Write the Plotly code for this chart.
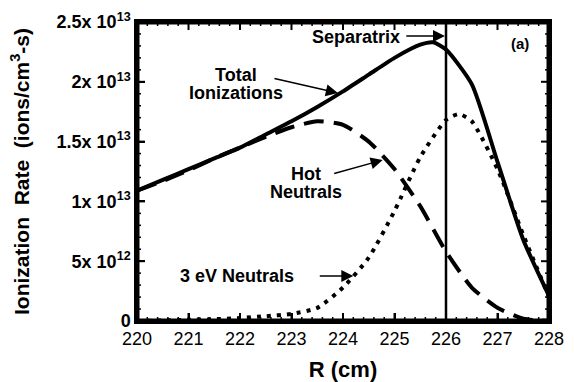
import plotly.graph_objects as go

# ---- data ----
r_total = [220, 220.5, 221, 221.5, 222, 222.5, 223, 223.5, 224, 224.5, 225, 225.5, 225.75, 226, 226.5, 227, 227.5, 228]
total = [1.09, 1.18, 1.27, 1.36, 1.45, 1.56, 1.67, 1.79, 1.92, 2.06, 2.20, 2.31, 2.33, 2.27, 1.98, 1.33, 0.68, 0.21]

r_hot = [220, 220.5, 221, 221.5, 222, 222.5, 223, 223.5, 224, 224.5, 225, 225.5, 226, 226.5, 227, 227.5, 228]
hot = [1.09, 1.17, 1.26, 1.36, 1.45, 1.54, 1.62, 1.67, 1.64, 1.50, 1.27, 0.96, 0.58, 0.28, 0.11, 0.02, 0.0]

r_3ev = [220, 220.5, 221, 221.5, 222, 222.5, 223, 223.5, 224, 224.5, 225, 225.5, 226, 226.25, 226.5, 227, 227.5, 228]
ev3 = [0.0, 0.005, 0.01, 0.015, 0.025, 0.04, 0.06, 0.11, 0.28, 0.53, 0.92, 1.37, 1.68, 1.73, 1.67, 1.27, 0.72, 0.20]

scale = 1e13
separatrix_r = 226

x_ticks = [220, 221, 222, 223, 224, 225, 226, 227, 228]
y_tickvals = [0, 5e12, 1e13, 1.5e13, 2e13, 2.5e13]
y_ticktext = ["<b>0</b>", "<b>5x 10<sup>12</sup></b>", "<b>1x 10<sup>13</sup></b>", "<b>1.5x 10<sup>13</sup></b>",
              "<b>2x 10<sup>13</sup></b>", "<b>2.5x 10<sup>13</sup></b>"]

FONT = "Arial"
X_RANGE = [220, 228]
Y_RANGE = [0, 2.5e13]
X_MINOR_STEP = 0.2
Y_MINOR_STEP = 1e12

W, H = 574, 382
M = dict(l=137, r=25, t=22, b=61)
PW = W - M["l"] - M["r"]
PH = H - M["t"] - M["b"]

fig = go.Figure()
fig.add_trace(go.Scatter(x=r_total, y=[v * scale for v in total], mode="lines",
                         line=dict(color="black", width=4, shape="spline", smoothing=0.6),
                         name="Total Ionizations"))
fig.add_trace(go.Scatter(x=r_hot, y=[v * scale for v in hot], mode="lines",
                         line=dict(color="black", width=4, dash="20px,10px", shape="spline", smoothing=0.6),
                         name="Hot Neutrals"))
fig.add_trace(go.Scatter(x=r_3ev, y=[v * scale for v in ev3], mode="lines",
                         line=dict(color="black", width=4, dash="4px,6px", shape="spline", smoothing=0.6),
                         name="3 eV Neutrals"))

# ---- frame and tick marks drawn as decoration traces on overlay axes (fraction units) ----
deco = dict(mode="lines", hoverinfo="skip", showlegend=False)
fig.add_trace(go.Scatter(x=[0, 1, 1, 0, 0], y=[0, 0, 1, 1, 0], xaxis="x2", yaxis="y2",
                         line=dict(color="black", width=5), **deco))

x_minor = [X_RANGE[0] + i * X_MINOR_STEP for i in range(int(round((X_RANGE[1] - X_RANGE[0]) / X_MINOR_STEP)) + 1)]
y_minor = [Y_RANGE[0] + i * Y_MINOR_STEP for i in range(int(round((Y_RANGE[1] - Y_RANGE[0]) / Y_MINOR_STEP)) + 1)]


def xtick_trace(vals, length_px, width):
    xs, ys = [], []
    f = length_px / PH
    for v in vals:
        xs += [v, v, None, v, v, None]
        ys += [0, f, None, 1, 1 - f, None]
    fig.add_trace(go.Scatter(x=xs, y=ys, xaxis="x", yaxis="y2", line=dict(color="black", width=width), **deco))


def ytick_trace(vals, length_px, width):
    xs, ys = [], []
    f = length_px / PW
    for v in vals:
        xs += [0, f, None, 1, 1 - f, None]
        ys += [v, v, None, v, v, None]
    fig.add_trace(go.Scatter(x=xs, y=ys, xaxis="x2", yaxis="y", line=dict(color="black", width=width), **deco))


xtick_trace([v for v in x_minor if all(abs(v - t) > 1e-6 for t in x_ticks)], 4, 1.5)
xtick_trace(x_ticks, 8, 2)
ytick_trace([v for v in y_minor if all(abs(v - t) > 1 for t in y_tickvals)], 4, 1.5)
ytick_trace(y_tickvals, 8, 2)

# separatrix
fig.add_shape(type="line", xref="x", yref="paper", x0=separatrix_r, x1=separatrix_r, y0=0, y1=1,
              line=dict(color="black", width=2.5))


def txt(x, y, t, size=18):
    fig.add_annotation(x=x, y=y, xref="x", yref="y", text="<b>" + t + "</b>", showarrow=False,
                       font=dict(family=FONT, size=size, color="black"))


def arrow(x0, y0, x1, y1):
    fig.add_annotation(x=x1, y=y1, ax=x0, ay=y0, xref="x", yref="y", axref="x", ayref="y",
                       text="", showarrow=True, arrowhead=2, arrowsize=1.6, arrowwidth=1.5,
                       arrowcolor="black", standoff=0, startstandoff=0)


txt(224.25, 2.375e13, "Separatrix")
arrow(225.2, 2.383e13, 225.98, 2.383e13)
txt(221.93, 2.055e13, "Total")
txt(221.93, 1.905e13, "Ionizations")
arrow(222.64, 2.03e13, 223.9, 1.906e13)
txt(223.28, 1.226e13, "Hot")
txt(223.28, 1.078e13, "Neutrals")
arrow(223.8, 1.23e13, 224.77, 1.346e13)
txt(221.95, 0.376e13, "3 eV Neutrals")
arrow(223.52, 0.376e13, 224.2, 0.376e13)
txt(227.43, 2.32e13, "(a)", size=15)

tickfont = dict(family=FONT, size=18, color="black")

fig.update_layout(
    width=W, height=H, margin=M,
    plot_bgcolor="white", paper_bgcolor="white", showlegend=False,
    xaxis=dict(range=X_RANGE, tickmode="array", tickvals=x_ticks,
               tickprefix="<b>", ticksuffix="</b>",
               showline=True, linecolor="black", linewidth=2.5, mirror=True,
               ticks="inside", ticklen=8, tickwidth=2, tickcolor="black",
               showgrid=False, zeroline=False, tickfont=tickfont, automargin=False,
               title=dict(text="<b>R (cm)</b>", font=dict(family=FONT, size=22, color="black"),
                          standoff=20)),
    yaxis=dict(range=Y_RANGE, tickmode="array", tickvals=y_tickvals, ticktext=y_ticktext,
               showline=True, linecolor="black", linewidth=2.5, mirror=True,
               ticks="inside", ticklen=8, tickwidth=2, tickcolor="black",
               showgrid=False, zeroline=False, tickfont=tickfont, automargin=False,
               title=dict(text="<b>Ionization&nbsp; Rate&nbsp; (ions/cm<sup>3</sup>-s)</b>",
                          font=dict(family=FONT, size=21, color="black"), standoff=22)),
    xaxis2=dict(range=[0, 1], overlaying="x", anchor="y", visible=False, fixedrange=True),
    yaxis2=dict(range=[0, 1], overlaying="y", anchor="x", visible=False, fixedrange=True),
)

fig.write_html("out.html")
